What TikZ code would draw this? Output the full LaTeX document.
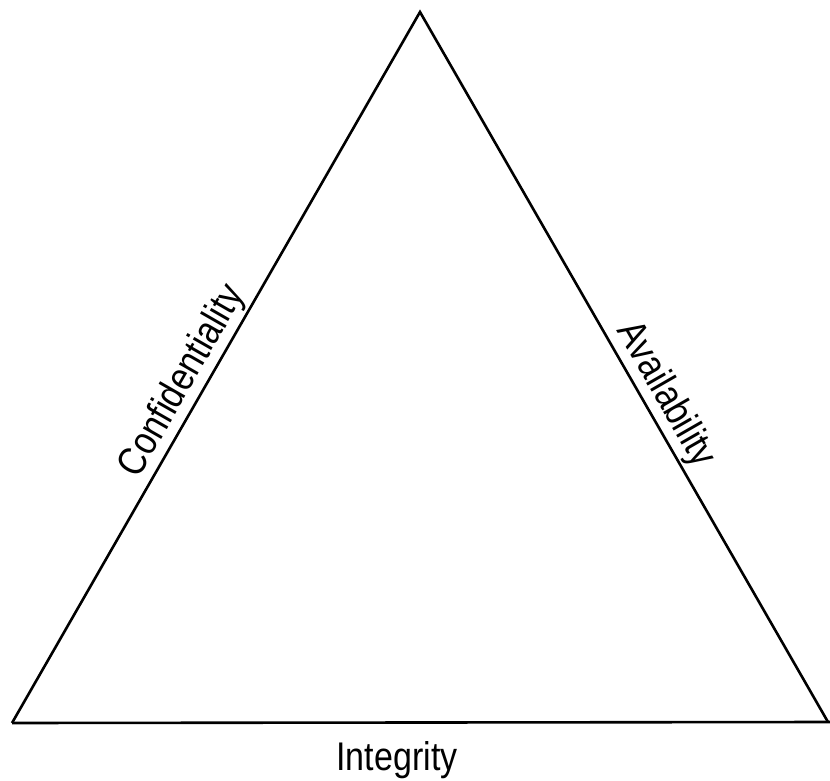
\documentclass[tikz,border=0pt]{standalone}
\usepackage{fontspec}
\setmainfont[FakeStretch=0.85]{Liberation Sans}
\begin{document}
\begin{tikzpicture}[x=0.5pt,y=-0.5pt,
  lbl/.style={font=\fontsize{20}{24}\selectfont, inner sep=1.5pt},
  edge/.style={line width=1.3pt, line join=miter}]
\useasboundingbox (0,0) rectangle (830,781);
\coordinate (T) at (420,12);
\coordinate (L) at (12,723);
\coordinate (R) at (828,722);
\coordinate (RE) at (830,722);
\draw[edge] (L) -- (T) -- (R);
\draw[edge] (L) -- (RE);
\path (L) -- (T) node[lbl, pos=0.465, sloped, anchor=south] (conf) {Confidentiality};
\path (T) -- (R) node[lbl, pos=0.555, sloped, anchor=south] (avail) {Availability};
\node[lbl, anchor=base] (integ) at (397,770) {Integrity};
\end{tikzpicture}
\end{document}
